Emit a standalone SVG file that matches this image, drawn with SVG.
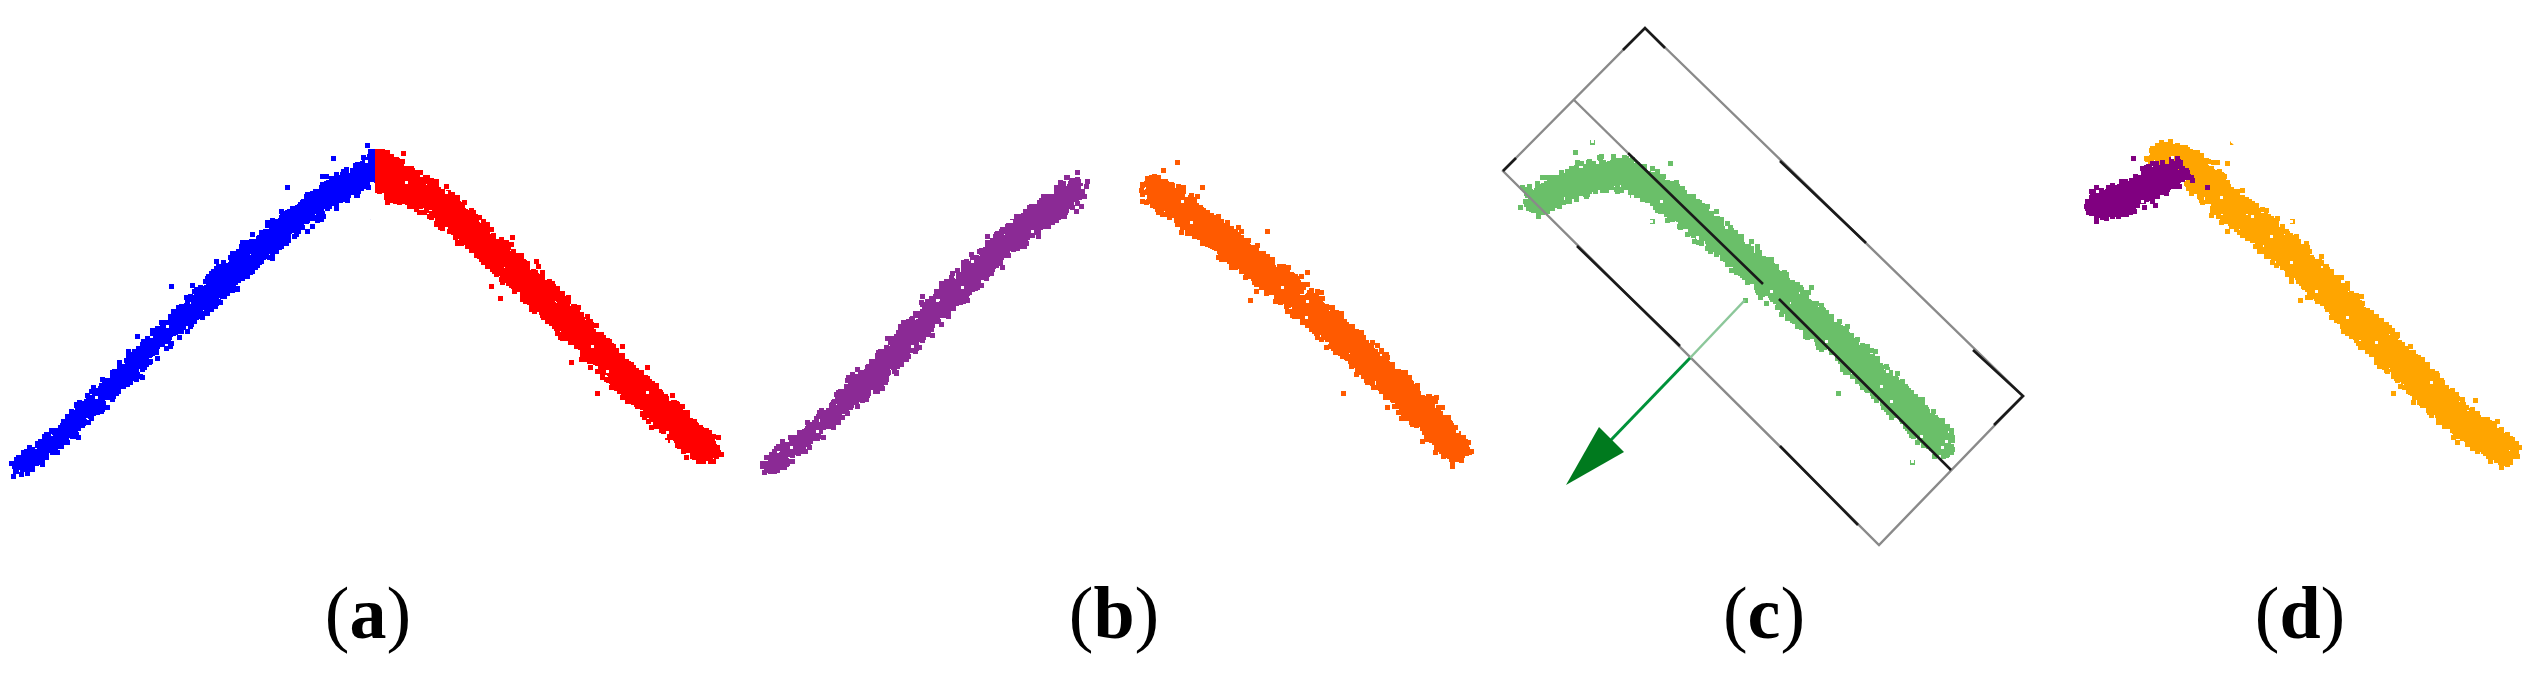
<svg xmlns="http://www.w3.org/2000/svg" width="2532" height="684" viewBox="0 0 2532 684">
<style>
.band{fill:none;stroke-linecap:round;stroke-linejoin:round}
.lbl{font-family:"Liberation Serif","Times New Roman",serif;font-size:74px;fill:#000}
.lbl tspan{font-weight:bold}
.edge{fill:none;stroke:#8a8a8a;stroke-width:2.4}
.dark{fill:none;stroke:#1a1a1a;stroke-width:2.6}
</style>
<defs>
<filter id="cloud" filterUnits="userSpaceOnUse" x="0" y="0" width="2532" height="560" color-interpolation-filters="sRGB">
<feMorphology in="SourceGraphic" operator="dilate" radius="20" result="col"/>
<feGaussianBlur in="SourceAlpha" stdDeviation="5.5" result="b"/>
<feTurbulence type="fractalNoise" baseFrequency="0.8" numOctaves="1" seed="4" result="t"/>
<feColorMatrix in="t" type="matrix" values="0 0 0 0 0  0 0 0 0 0  0 0 0 0 0  1 0 0 0 0" result="n"/>
<feComposite in="b" in2="n" operator="arithmetic" k1="0" k2="1" k3="4" k4="-2.8" result="m"/>
<feComponentTransfer in="m" result="sp"><feFuncA type="discrete" tableValues="0 1"/></feComponentTransfer>
<feMorphology in="sp" operator="dilate" radius="2" result="mask"/>
<feTurbulence type="fractalNoise" baseFrequency="0.8" numOctaves="1" seed="11" result="t2"/>
<feColorMatrix in="t2" type="matrix" values="0 0 0 0 0  0 0 0 0 0  0 0 0 0 0  0 1 0 0 0" result="n2"/>
<feComponentTransfer in="n2" result="h0"><feFuncA type="discrete" tableValues="0 0 0 0 1"/></feComponentTransfer>
<feMorphology in="h0" operator="dilate" radius="1" result="holes"/>
<feComposite in="mask" in2="holes" operator="out" result="mask2"/>
<feComposite in="col" in2="mask2" operator="in"/>
</filter>
<clipPath id="clipBlue"><rect x="0" y="0" width="375" height="684"/></clipPath>
<clipPath id="clipRed"><rect x="375" y="0" width="400" height="684"/></clipPath>
</defs>
<rect width="2532" height="684" fill="#fff"/>

<g id="panel-a">
<g id="cloud-a-blue" clip-path="url(#clipBlue)">
<g filter="url(#cloud)" stroke="#0000ff" class="band">
<path d="M20,466 L33,458 L67,430 L100,398 L133,366 L167,333 L200,302 L233,272" stroke-width="22"/>
<path d="M200,302 L233,272 L267,243 L300,215 L330,195 L350,182 L368,172 L380,164" stroke-width="29"/>
</g>
<g fill="#0000ff"><rect x="190" y="283" width="5" height="5"/><rect x="331" y="156" width="5" height="5"/><rect x="365" y="143" width="5" height="5"/></g>
</g>
<g id="cloud-a-red" clip-path="url(#clipRed)">
<g filter="url(#cloud)" stroke="#ff0000" class="band">
<path d="M378,170 L390,176 L406,186" stroke-width="40"/>
<path d="M376,166 L390,176 L410,186 L433,199 L467,228 L500,258 L533,289 L567,320 L600,352 L633,385 L667,416 L698,443 L706,450" stroke-width="33"/>
</g>
<g fill="#ff0000"><rect x="498" y="296" width="5" height="5"/><rect x="595" y="391" width="5" height="5"/><rect x="401" y="151" width="5" height="5"/></g>
</g>
<text class="lbl" x="368" y="638" text-anchor="middle">(<tspan>a</tspan>)</text>
</g>

<g id="panel-b">
<g id="cloud-b-purple">
<g filter="url(#cloud)" stroke="#8b2a95" class="band">
<path d="M769,467 L783,457 L800,443 L833,413 L867,382" stroke-width="20"/>
<path d="M850,398 L867,382 L900,348 L933,313 L967,280 L1000,248 L1030,224 L1053,208 L1074,190" stroke-width="28"/>
</g>
<g fill="#8b2a95"><rect x="1075" y="170" width="5" height="5"/></g>
</g>
<g id="cloud-b-orange">
<g filter="url(#cloud)" stroke="#ff5a00" class="band">
<path d="M1156,190 L1187,212 L1220,237 L1253,263 L1287,289 L1320,317 L1353,347 L1387,378 L1420,411 L1448,439 L1455,447" stroke-width="33"/>
</g>
<g fill="#ff5a00"><rect x="1248" y="298" width="5" height="5"/><rect x="1341" y="391" width="5" height="5"/><rect x="1175" y="160" width="5" height="5"/><rect x="1423" y="398" width="5" height="5"/><rect x="1161" y="168" width="5" height="5"/></g>
</g>
<text class="lbl" x="1114" y="638" text-anchor="middle">(<tspan>b</tspan>)</text>
</g>

<g id="panel-c">
<g id="cloud-c-green">
<g filter="url(#cloud)" stroke="#6abf69" class="band">
<path d="M1537,200 L1557,192 L1590,178 L1623,172 L1657,190 L1690,215 L1723,242 L1757,270 L1790,299 L1823,329 L1857,360 L1890,391 L1920,421 L1942,443" stroke-width="33"/>
</g>
<g fill="#6abf69"><rect x="1743" y="298" width="5" height="5"/><rect x="1836" y="391" width="5" height="5"/><rect x="1916" y="398" width="5" height="5"/><rect x="1573" y="150" width="5" height="5"/><rect x="1668" y="161" width="5" height="5"/></g>
</g>
<g id="box-c">
<polygon class="edge" points="1645,28 2023,396 1879,545 1503,171"/>
<line class="edge" x1="1574" y1="100" x2="1628" y2="153"/>
<path class="dark" d="M1503,171 L1516,158 M1623,50 L1645,28 L1665,48 M1780,161 L1866,243 M1973,350 L2023,396 L1994,425 M1577,246 L1680,346 M1780,446 L1858,525"/>
<path class="dark" d="M1628,153 L1763,284 M1779,299 L1951,470"/>
</g>
<text class="lbl" x="1764" y="638" text-anchor="middle">(<tspan>c</tspan>)</text>
</g>

<g id="connectors">
<line x1="1745" y1="300" x2="1690" y2="358" stroke="#8cc79a" stroke-width="2.5"/>
<line x1="1690" y1="358" x2="1610" y2="441" stroke="#00923a" stroke-width="3"/>
<polygon points="1599,427 1624,452 1566,485" fill="#007a1e"/>
</g>

<g id="panel-d">
<g id="cloud-d-orange">
<g filter="url(#cloud)" stroke="#ffa500" class="band">
<path d="M2164,157 Q2187,160 2202,178 L2227,202 L2260,229 L2293,257 L2327,289 L2360,322 L2393,355 L2427,389 L2460,419 L2488,440 L2503,450" stroke-width="35"/>
</g>
<g fill="#ffa500"><rect x="2298" y="298" width="5" height="5"/><rect x="2391" y="391" width="5" height="5"/><rect x="2473" y="398" width="5" height="5"/><rect x="2161" y="143" width="5" height="5"/><rect x="2225" y="161" width="5" height="5"/></g>
</g>
<g id="cloud-d-purple">
<g filter="url(#cloud)" stroke="#800080" class="band">
<path d="M2102,204 L2115,203 L2138,190 L2160,178 L2174,174" stroke-width="34"/>
</g>
<g fill="#800080"><rect x="2131" y="156" width="5" height="5"/><rect x="2153" y="203" width="5" height="5"/><rect x="2190" y="178" width="5" height="5"/></g>
</g>
<text class="lbl" x="2300" y="638" text-anchor="middle">(<tspan>d</tspan>)</text>
</g>
</svg>
